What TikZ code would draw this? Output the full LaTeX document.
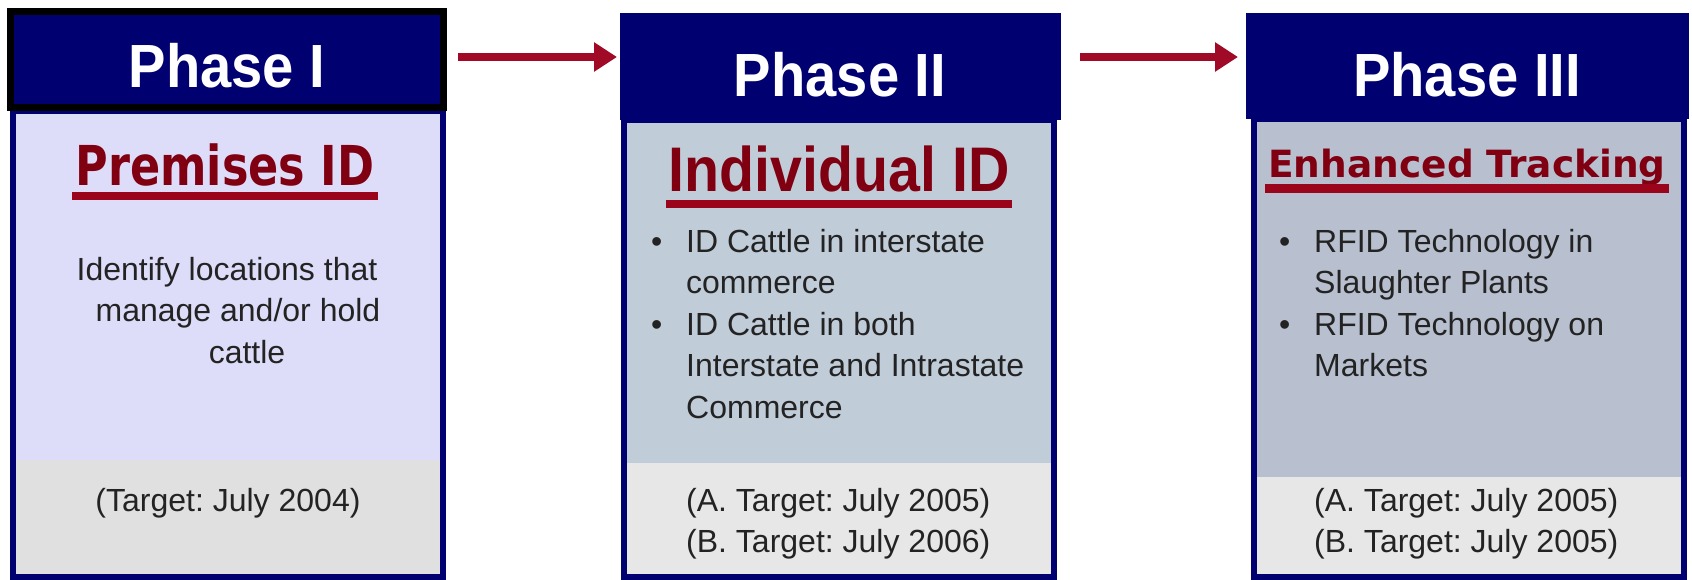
\documentclass[tikz,border=0pt]{standalone}
\usepackage{fontspec}
\setmainfont{Liberation Sans}
\newfontfamily\dejavufont{DejaVu Sans}
\usepackage{graphicx}
\usepackage{xcolor}
\usetikzlibrary{arrows.meta}

\definecolor{hdnavy}{RGB}{0,0,112}
\definecolor{lavbody}{RGB}{221,221,250}
\definecolor{steelbody}{RGB}{193,204,217}
\definecolor{slatebody}{RGB}{184,192,208}
\definecolor{tgtgray}{RGB}{224,224,224}
\definecolor{tgtlight}{RGB}{231,231,231}
\definecolor{titlered}{RGB}{128,0,18}
\definecolor{linered}{RGB}{155,5,28}
\definecolor{arrowred}{RGB}{160,10,38}
\definecolor{bodyink}{RGB}{35,35,35}

\newcommand{\bul}{\makebox[35pt][l]{\textbullet}}
\newcommand{\ind}{\hspace*{35pt}}

\begin{document}
\frenchspacing
\begin{tikzpicture}[x=1pt,y=-1pt,
  phasetext/.style={text=white,inner sep=0pt,anchor=base,font=\fontsize{61}{61}\selectfont\bfseries},
  stagetext/.style={text=titlered,inner sep=0pt,anchor=base},
  uline/.style={draw=linered,line width=8pt},
  bodytext/.style={text=bodyink,inner sep=0pt,font=\fontsize{32}{41.5}\selectfont},
  flow/.style={draw=arrowred,line width=8pt,-{Triangle[length=23pt,width=28pt]}},
  boxline/.style={draw=hdnavy,line width=6pt}]
\useasboundingbox (0,0) rectangle (1692,580);
\fill[lavbody] (13,111) rectangle (443,460);
\fill[tgtgray] (13,460) rectangle (443,577);
\draw[boxline] (13,111) rectangle (443,577);
\filldraw[fill=hdnavy,draw=black,line width=7pt] (10.5,11.5) rectangle (443.5,107.5);
\node[phasetext] (hd1) at (227,88) {\scalebox{0.92}[1]{Phase I}};
\node[stagetext,font=\dejavufont\bfseries\fontsize{55}{55}\selectfont] (st1) at (225,186) {\scalebox{0.81}[1]{Premises ID}};
\draw[uline] ([xshift=-3pt,yshift=-10pt]st1.base west) -- ([xshift=3pt,yshift=-10pt]st1.base east);
\node[bodytext,anchor=north,align=center] (tx1) at (238,257) {Identify locations that\hspace*{22pt}\\manage and/or hold\\\hspace*{18pt}cattle};
\node[bodytext,anchor=base] (tg1) at (228,511) {(Target: July 2004)};
\fill[steelbody] (623.5,120) rectangle (1053.5,463);
\fill[tgtlight] (623.5,463) rectangle (1053.5,577);
\draw[boxline] (623.5,120) rectangle (1053.5,577);
\fill[hdnavy] (620,13) rectangle (1061,120);
\node[phasetext] (hd2) at (840,97) {\scalebox{0.92}[1]{Phase II}};
\node[stagetext,font=\bfseries\fontsize{63}{63}\selectfont] (st2) at (839,192) {\scalebox{0.91}[1]{Individual ID}};
\draw[uline] ([xshift=-2pt,yshift=-12pt]st2.base west) -- ([xshift=2pt,yshift=-12pt]st2.base east);
\node[bodytext,anchor=north west,align=left] (tx2) at (651,229) {\bul ID Cattle in interstate\\\ind commerce\\\bul ID Cattle in both\\\ind Interstate and Intrastate\\\ind Commerce};
\node[bodytext,anchor=north west,align=left] (tg2) at (686,488) {(A. Target: July 2005)\\(B. Target: July 2006)};
\fill[slatebody] (1253.5,119) rectangle (1683.5,477);
\fill[tgtlight] (1253.5,477) rectangle (1683.5,577);
\draw[boxline] (1253.5,119) rectangle (1683.5,577);
\fill[hdnavy] (1246,13) rectangle (1689,119);
\node[phasetext] (hd3) at (1467,97) {\scalebox{0.92}[1]{Phase III}};
\node[stagetext,font=\dejavufont\bfseries\fontsize{37.5}{37.5}\selectfont] (st3) at (1467,178) {Enhanced Tracking};
\draw[uline,line width=9pt] ([xshift=-3pt,yshift=-11pt]st3.base west) -- ([xshift=3pt,yshift=-11pt]st3.base east);
\node[bodytext,anchor=north west,align=left] (tx3) at (1279,229) {\bul RFID Technology in\\\ind Slaughter Plants\\\bul RFID Technology on\\\ind Markets};
\node[bodytext,anchor=north west,align=left] (tg3) at (1314,488) {(A. Target: July 2005)\\(B. Target: July 2005)};
\coordinate (go1) at (458,57);
\coordinate (to2) at (617,57);
\draw[flow] (go1) -- (to2);
\coordinate (go2) at (1080,57);
\coordinate (to3) at (1238,57);
\draw[flow] (go2) -- (to3);
\end{tikzpicture}
\end{document}
